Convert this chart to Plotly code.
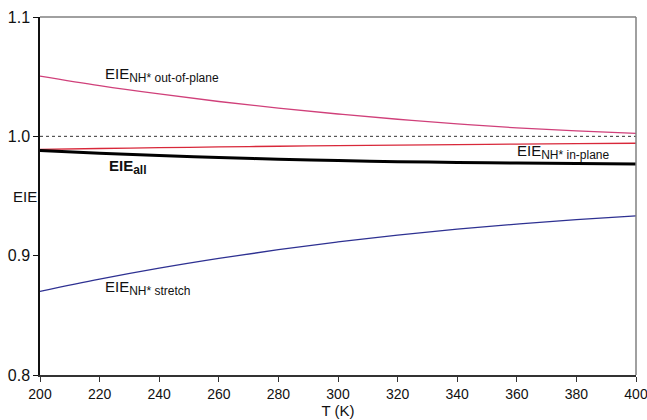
import plotly.graph_objects as go

T = [200, 220, 240, 260, 280, 300, 320, 340, 360, 380, 400]
eie_out_of_plane = [1.0505, 1.0425, 1.0355, 1.0292, 1.0236, 1.0187, 1.0143, 1.0104, 1.0071, 1.0045, 1.0024]
eie_in_plane = [0.9890, 0.9898, 0.9905, 0.9911, 0.9917, 0.9922, 0.9927, 0.9931, 0.9935, 0.9939, 0.9942]
eie_all = [0.9882, 0.9858, 0.9839, 0.9822, 0.9808, 0.9797, 0.9788, 0.9781, 0.9776, 0.9772, 0.9769]
eie_stretch = [0.8700, 0.8803, 0.8895, 0.8977, 0.9050, 0.9115, 0.9172, 0.9222, 0.9265, 0.9302, 0.9333]
reference = [1.0, 1.0]
reference_T = [200, 400]

x_ticks = [200, 220, 240, 260, 280, 300, 320, 340, 360, 380, 400]
y_ticks = [0.8, 0.9, 1.0, 1.1]

FONT = "Liberation Sans, Arial, sans-serif"

fig = go.Figure()
fig.add_trace(go.Scatter(x=reference_T, y=reference, mode="lines",
                         line=dict(color="#333333", width=1, dash="3px,3px"), showlegend=False))
fig.add_trace(go.Scatter(x=T, y=eie_out_of_plane, mode="lines", line_shape="spline",
                         line=dict(color="#d0407a", width=1.3), showlegend=False))
fig.add_trace(go.Scatter(x=T, y=eie_in_plane, mode="lines", line_shape="spline",
                         line=dict(color="#d8283a", width=1.3), showlegend=False))
fig.add_trace(go.Scatter(x=T, y=eie_all, mode="lines", line_shape="spline",
                         line=dict(color="#000000", width=3), showlegend=False))
fig.add_trace(go.Scatter(x=T, y=eie_stretch, mode="lines", line_shape="spline",
                         line=dict(color="#2e3192", width=1.3), showlegend=False))


def sub(main, s, bold=False):
    txt = f'{main}<sub><span style="font-size:12px">{s}</span></sub>'
    return f"<b>{txt}</b>" if bold else txt


ann_font = dict(family=FONT, size=15, color="#111111")
annotations = [
    dict(x=221.2, y=1.0510, text=sub("EIE", "NH* out-of-plane"), xanchor="left", yanchor="middle"),
    dict(x=222.5, y=0.9740, text=sub("EIE", "all", bold=True), xanchor="left", yanchor="middle"),
    dict(x=359.5, y=0.9865, text=sub("EIE", "NH* in-plane"), xanchor="left", yanchor="middle"),
    dict(x=221.2, y=0.8725, text=sub("EIE", "NH* stretch"), xanchor="left", yanchor="middle"),
]
for a in annotations:
    fig.add_annotation(xref="x", yref="y", showarrow=False, font=ann_font, **a)

fig.add_annotation(xref="paper", yref="y", x=-0.025, y=0.95, text="EIE", showarrow=False,
                   xanchor="center", yanchor="middle", font=dict(family=FONT, size=15, color="#111111"))

# top and right gray border
fig.add_shape(type="line", xref="paper", yref="paper", x0=0, x1=1, y0=1, y1=1,
              line=dict(color="#808080", width=1.5))
fig.add_shape(type="line", xref="paper", yref="paper", x0=1, x1=1, y0=0, y1=1,
              line=dict(color="#808080", width=1.5))

fig.update_layout(
    width=647, height=420,
    margin=dict(l=40, r=11, t=17, b=45),
    paper_bgcolor="white", plot_bgcolor="white",
    font=dict(family=FONT, size=15, color="#111111"),
    xaxis=dict(range=[200, 400], tickvals=x_ticks, ticks="outside", ticklen=5,
               tickcolor="#333333", showline=True, linecolor="#333333", linewidth=1.5,
               showgrid=False, zeroline=False, automargin=False, ticklabeloverflow="allow",
               title=dict(text="T (K)", standoff=0, font=dict(size=15)),
               tickfont=dict(size=14)),
    yaxis=dict(range=[0.8, 1.1], tickvals=y_ticks, tickformat=".1f", ticks="outside",
               ticklen=5, tickcolor="#111111", showline=True, linecolor="#111111",
               linewidth=1.5, showgrid=False, zeroline=False, automargin=False,
               ticklabeloverflow="allow", tickfont=dict(size=16)),
)

fig.write_html("out.html", config={"displayModeBar": False},
               post_script="document.body.style.margin='0';document.body.style.overflow='hidden';")
